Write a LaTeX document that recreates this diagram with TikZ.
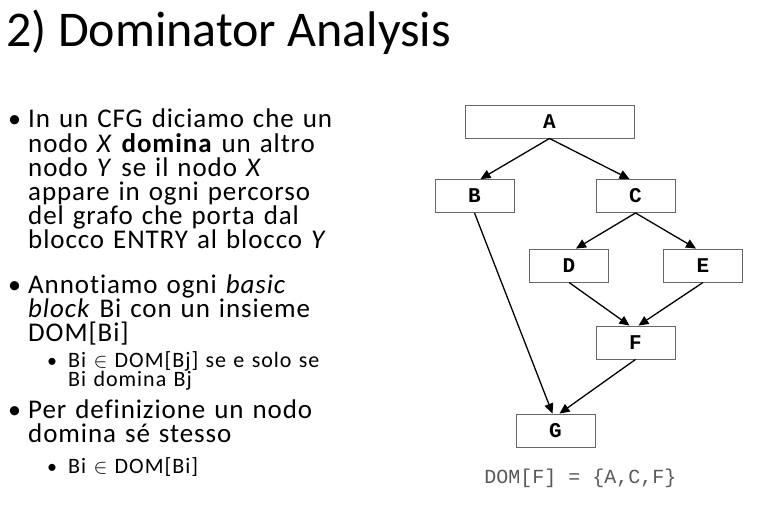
\documentclass[tikz,border=0pt]{standalone}
\usepackage{fontspec}
\setmainfont{Carlito}[Ligatures=NoCommon]
\newfontfamily\mainfont{Carlito}[Ligatures=NoCommon, LetterSpace=3.4]
\newfontfamily\subfont{Carlito}[Ligatures=NoCommon, LetterSpace=4.5]
\newfontfamily\codefont{Liberation Mono}
\usetikzlibrary{arrows.meta}

\tikzset{
  blockbox/.style={draw=black!60, line width=0.9pt, inner sep=0pt,
    minimum width=79pt, minimum height=33pt, font=\codefont\bfseries\fontsize{21}{21}\selectfont},
  flow/.style={-{Triangle[length=10pt,width=9pt]}, line width=1.3pt},
  mainpt/.style={anchor=base west, inner sep=0pt, text width=340pt, align=left,
    execute at begin node={\lineskiplimit=-100pt},
    font=\mainfont\fontsize{27}{24.2}\selectfont},
  subpt/.style={anchor=base west, inner sep=0pt, text width=300pt, align=left,
    execute at begin node={\lineskiplimit=-100pt},
    font=\subfont\fontsize{22}{19.5}\selectfont},
  dot/.style={anchor=base west, inner sep=0pt},
}
\newcommand{\elem}{{\fontsize{20}{20}\selectfont$\in$}}

\begin{document}
\begin{tikzpicture}[x=1pt, y=-1pt]
  \useasboundingbox (0,0) rectangle (757,508);

  % title
  \node[anchor=base west, inner sep=0pt, font=\fontsize{50}{50}\selectfont] (title) at (6,47) {2) Dominator Analysis};

  % bullets on the left
  \node[dot, font=\fontsize{26}{25}\selectfont] (d1) at (8,128) {•};
  \node[mainpt] (p1) at (28,128) {In un CFG diciamo che un\\ nodo \emph{X} \textbf{domina} un altro\\ nodo \emph{Y} se il nodo \emph{X}\\ appare in ogni percorso\\ del grafo che porta dal\\ blocco ENTRY al blocco \emph{Y}};
  \node[dot, font=\fontsize{26}{25}\selectfont] (d2) at (8,293) {•};
  \node[mainpt] (p2) at (28,293) {Annotiamo ogni \emph{basic}\\ \emph{block} Bi con un insieme\\ DOM[Bi]};
  \node[dot, font=\fontsize{20}{19}\selectfont] (d21) at (47,367) {•};
  \node[subpt] (p21) at (68,367) {Bi \elem{} DOM[Bj] se e solo se\\ Bi domina Bj};
  \node[dot, font=\fontsize{26}{25}\selectfont] (d3) at (8,418) {•};
  \node[mainpt] (p3) at (28,418) {Per definizione un nodo\\ domina sé stesso};
  \node[dot, font=\fontsize{20}{19}\selectfont] (d31) at (47,473) {•};
  \node[subpt] (p31) at (68,473) {Bi \elem{} DOM[Bi]};

  % control flow graph
  \node[blockbox, minimum width=169pt] (A) at (549.5,121.5) {A};
  \node[blockbox] (B) at (474.5,196) {B};
  \node[blockbox] (C) at (635.5,196) {C};
  \node[blockbox] (D) at (569,265.5) {D};
  \node[blockbox] (E) at (703,265.5) {E};
  \node[blockbox] (F) at (635.5,342.5) {F};
  \node[blockbox] (G) at (555.5,430.5) {G};

  \draw[flow] (A.south) -- ([xshift=6pt]B.north);
  \draw[flow] (A.south) -- ([xshift=-6pt]C.north);
  \draw[flow] (C.south) -- ([xshift=7pt]D.north);
  \draw[flow] (C.south) -- ([xshift=-7pt]E.north);
  \draw[flow] (D.south) -- ([xshift=-6pt]F.north);
  \draw[flow] (E.south) -- ([xshift=3pt]F.north);
  \draw[flow] (B.south) -- ([xshift=-3pt]G.north);
  \draw[flow] (F.south) -- ([xshift=4pt]G.north);

  \node[anchor=base, inner sep=0pt, text=black!65, font=\codefont\fontsize{20}{20}\selectfont] (dom) at (580.5,483) {DOM[F] = \{A,C,F\}};
\end{tikzpicture}
\end{document}
